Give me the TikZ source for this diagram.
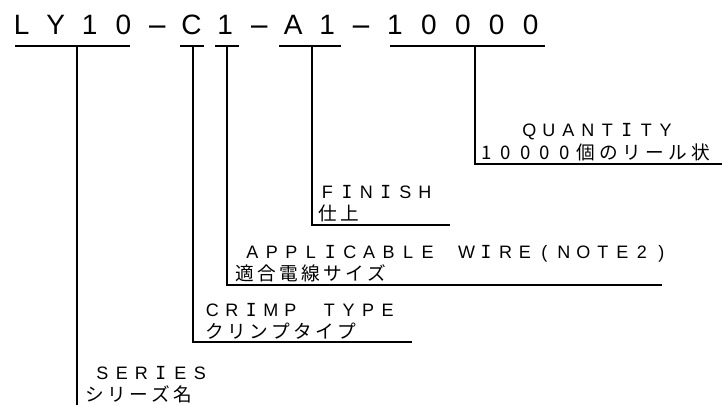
\documentclass[tikz,border=0pt]{standalone}
\usepackage{graphicx}
\usepackage{fontspec}
\setmainfont{Liberation Sans}
\newfontfamily\jpfont{Noto Sans CJK JP}
\newfontfamily\ifont{DejaVu Sans Mono}
\def\cellsstop{\cellsstop}
\newcommand\cellrow[2]{\def\cellw{#1}\cellsi#2\cellsstop}
\def\cellsi#1{\ifx#1\cellsstop\else\makebox[\cellw][c]{#1}\expandafter\cellsi\fi}
\newcommand\hy{\scalebox{2.4}[1]{-}}
\newcommand\Iser{{\ifont I}}
\begin{document}
\begin{tikzpicture}[x=0.75pt,y=-0.75pt,line width=1.1pt,
  ttl/.style={anchor=base west,inner sep=0pt,font=\fontsize{21}{21}\selectfont},
  lat/.style={anchor=base west,inner sep=0pt,font=\fontsize{13.5}{13.5}\selectfont},
  jpl/.style={anchor=base west,inner sep=0pt,font=\jpfont\fontsize{14}{14}\selectfont}]
\useasboundingbox (0,0) rectangle (725,405);
% part number
\node[ttl] (title) at (4,34) {\cellrow{25.45pt}{LY10\hy C1\hy A1\hy 10000}};
% underlines
\draw (15,46) -- (130,46);
\draw (180,46) -- (204,46);
\draw (215,46) -- (239,46);
\draw (279,46) -- (341,46);
\draw (390,46) -- (545,46);
% junction coordinates
\coordinate (js) at (77,46);
\coordinate (jc) at (193,46);
\coordinate (jw) at (227,46);
\coordinate (jf) at (312,46);
\coordinate (jq) at (475,46);
\coordinate (es) at (77,405);
\coordinate (ec) at (412,342);
\coordinate (ew) at (662,285);
\coordinate (ef) at (450,225);
\coordinate (eq) at (722,164);
% labels
\node[lat] (qty) at (519,136) {\cellrow{14.6pt}{QUANT\Iser TY}};
\node[jpl] (qtyj) at (476,159) {\cellrow{14.6pt}{10000}\cellrow{17.25pt}{個のリール状}};
\node[lat] (fin) at (317,198) {\cellrow{14.6pt}{F\Iser N\Iser SH}};
\node[jpl] (finj) at (316,220) {\cellrow{16.5pt}{仕上}};
\node[lat] (wire) at (242,258) {\cellrow{14.6pt}{APPL\Iser CABLE~W\Iser RE(NOTE2)}};
\node[jpl] (wirej) at (233,280) {\cellrow{16.5pt}{適合電線サイズ}};
\node[lat] (crimp) at (202,316) {\cellrow{14.6pt}{CR\Iser MP~TYPE}};
\node[jpl] (crimpj) at (203,338) {\cellrow{16.5pt}{クリンプタイプ}};
\node[lat] (ser) at (92,379) {\cellrow{14.6pt}{SER\Iser ES}};
\node[jpl] (serj) at (83,401) {\cellrow{16.5pt}{シリーズ名}};
% leaders
\draw (jq) |- (eq);
\draw (jf) |- (ef);
\draw (jw) |- (ew);
\draw (jc) |- (ec);
\draw (js) -- (es);
\end{tikzpicture}
\end{document}
